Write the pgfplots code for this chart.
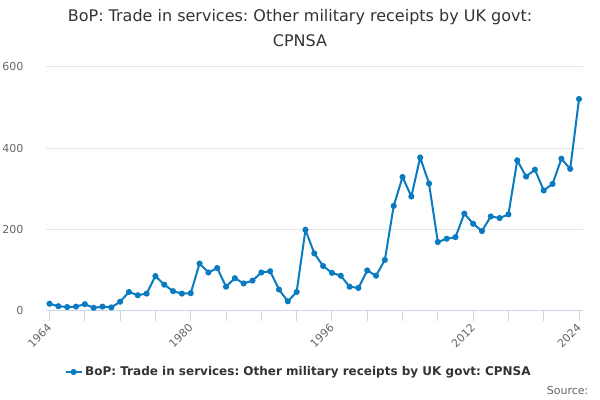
\documentclass[border=0pt]{standalone}
\usepackage{pgfplots}
\pgfplotsset{compat=1.18}
\usepackage{fontspec}
\setmainfont{DejaVu Sans}
\frenchspacing
\definecolor{linecol}{HTML}{0A7BC1}
\definecolor{gridcol}{HTML}{E6E6E6}
\definecolor{axcol}{HTML}{CCD6EB}
\definecolor{titlecol}{HTML}{333333}
\definecolor{tickcol}{HTML}{666666}
\begin{document}
\begin{tikzpicture}
\useasboundingbox (0pt,0pt) rectangle (450pt,300pt);
\begin{axis}[
  at={(34.5pt,67pt)}, anchor=south west,
  scale only axis, width=402.75pt, height=182.8pt,
  xmin=1963.6, xmax=2024.45, ymin=0, ymax=600,
  separate axis lines,
  axis x line*=bottom, axis y line*=left,
  y axis line style={draw=none},
  x axis line style={draw=axcol, line width=0.75pt, -},
  ytick={0,200,400,600},
  ytick style={draw=none},
  ymajorgrids, major grid style={draw=gridcol, line width=0.75pt},
  xtick={1964,1980,1996,2012,2024},
  xticklabels={1964,1980,1996,2012,2024},
  minor xtick={1968,1972,1976,1984,1988,1992,2000,2004,2008,2016,2020},
  tick align=outside, major tick length=7.5pt, minor tick length=7.5pt,
  xtick style={draw=axcol, line width=0.75pt},
  minor x tick style={draw=axcol, line width=0.75pt},
  /pgf/number format/assume math mode=true,
  ticklabel style={font=\fontsize{8.25pt}{10pt}\selectfont, text=tickcol},
  yticklabel style={xshift=-6pt},
  xticklabel style={rotate=45, anchor=east, xshift=1pt, yshift=-2.5pt},
  clip=false,
  legend style={at={(0.471,-0.2516)}, anchor=center, draw=none, fill=none,
    font=\fontsize{9pt}{11pt}\selectfont\bfseries, text=titlecol, inner sep=0pt},
  legend image code/.code={\draw[#1, mark repeat=2, mark phase=2] plot coordinates {(0pt,0pt) (6pt,0pt) (12pt,0pt)};},
]
\addplot[color=linecol, line width=1.5pt, mark=*, mark size=1.5pt, mark options={solid}] coordinates {
(1964,17) (1965,11) (1966,9) (1967,10) (1968,16) (1969,7) (1970,10) (1971,8)
(1972,22) (1973,46) (1974,38) (1975,42) (1976,85) (1977,64) (1978,48) (1979,42)
(1980,43) (1981,116) (1982,94) (1983,105) (1984,59) (1985,80) (1986,67) (1987,74)
(1988,94) (1989,97) (1990,52) (1991,23) (1992,46) (1993,199) (1994,141) (1995,110)
(1996,93) (1997,86) (1998,59) (1999,56) (2000,99) (2001,86) (2002,125) (2003,258)
(2004,329) (2005,281) (2006,377) (2007,313) (2008,169) (2009,177) (2010,181) (2011,239)
(2012,214) (2013,196) (2014,232) (2015,228) (2016,237) (2017,370) (2018,330) (2019,347)
(2020,296) (2021,312) (2022,374) (2023,349) (2024,521)
};
\addlegendentry{BoP: Trade in services: Other military receipts by UK govt: CPNSA}
\end{axis}
\node[font=\fontsize{12pt}{14pt}\selectfont, text=titlecol] at (225pt,287pt) {BoP: Trade in services: Other military receipts by UK govt:};
\node[font=\fontsize{12pt}{14pt}\selectfont, text=titlecol] at (225pt,269.5pt) {CPNSA};
\node[font=\fontsize{8.25pt}{10pt}\selectfont, text=tickcol, anchor=east, inner sep=0pt] at (441.5pt,7.5pt) {Source:};
\end{tikzpicture}
\end{document}
